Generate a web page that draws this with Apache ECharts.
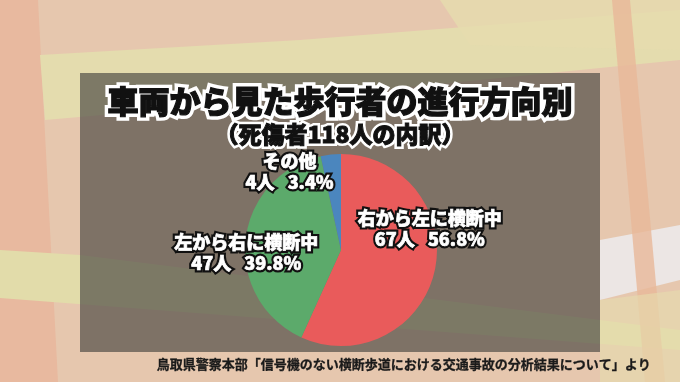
<!DOCTYPE html>
<html>
<head>
<meta charset="utf-8">
<script src="https://cdn.jsdelivr.net/npm/echarts@6/dist/echarts.min.js"></script>
<style>
html,body{margin:0;padding:0;background:#e6c6ae;}
#chart{width:680px;height:382px;}
</style>
</head>
<body>
<div id="chart"></div>
<script>
// ---- data ----
var titleText = '車両から見た歩行者の進行方向別';
var subtitleText = '（死傷者118人の内訳）';
var sourceText = '鳥取県警察本部「信号機のない横断歩道における交通事故の分析結果について」より';
var categories = ['右から左に横断中', '左から右に横断中', 'その他'];
var counts = [67, 47, 4];
var colors = ['#e95b5b', '#5caa6b', '#4b86be'];
var labelShift = [[39, -32], [-44, 8], [-46, -28]];

var chart = echarts.init(document.getElementById('chart'), null, {renderer: 'canvas'});
var font = '"Noto Sans CJK JP", "Noto Sans", sans-serif';

var bg = [
  {type: 'rect', shape: {x: 0, y: 0, width: 680, height: 382}, style: {fill: '#e6c7ae'}},
  {type: 'polygon', shape: {points: [[0,0],[38,0],[58,382],[0,382]]}, style: {fill: '#e8b99f'}},
  {type: 'polygon', shape: {points: [[40,55],[300,40],[680,10],[680,60],[330,95],[45,120]]}, style: {fill: '#e4dcae'}},
  {type: 'polygon', shape: {points: [[440,0],[680,0],[680,50],[470,45]]}, style: {fill: '#e6dcae', opacity: 0.8}},
  {type: 'polygon', shape: {points: [[0,250],[80,255],[680,330],[680,350],[0,298]]}, style: {fill: '#e2dcaa'}},
  {type: 'polygon', shape: {points: [[600,240],[680,225],[680,280],[600,300]]}, style: {fill: '#ece6e4'}},
  {type: 'polygon', shape: {points: [[612,0],[630,0],[665,382],[645,382]]}, style: {fill: '#e8b898', opacity: 0.8}},
  {type: 'polygon', shape: {points: [[600,300],[680,290],[680,382],[600,382]]}, style: {fill: '#e6dcae', opacity: 0.6}},
  {type: 'rect', shape: {x: 80, y: 73, width: 520, height: 279}, style: {fill: 'rgba(72,70,66,0.66)'}}
];

var pieData = categories.map(function (name, i) {
  return {name: name, value: counts[i], itemStyle: {color: colors[i]}};
});
var pieDataTop = categories.map(function (name, i) {
  return {name: name, value: counts[i], itemStyle: {color: 'rgba(0,0,0,0)'}};
});

function titleItem(text, top, size, fill, stroke, sw) {
  return {
    text: text, left: 'center', top: top,
    textStyle: {fontFamily: font, fontSize: size, fontWeight: 900, color: fill,
      textBorderColor: stroke, textBorderWidth: sw}
  };
}

var labelBase = {
  position: 'inside',
  formatter: '{b}\n{c}人\u2002 {d}%',
  fontFamily: font,
  fontSize: 18,
  fontWeight: 900,
  lineHeight: 21
};

function pieSeries(data, labelStyle, z) {
  return {
    type: 'pie',
    z: z,
    center: [341, 250],
    radius: 96,
    startAngle: 90,
    clockwise: true,
    percentPrecision: 1,
    silent: true,
    data: data,
    itemStyle: {borderWidth: 0},
    label: Object.assign({}, labelBase, labelStyle),
    labelLine: {show: false},
    labelLayout: function (p) {
      var s = labelShift[p.dataIndex];
      return {dx: s[0], dy: s[1]};
    },
    emphasis: {disabled: true}
  };
}

chart.setOption({
  animation: false,
  graphic: bg.map(function (g) { g.silent = true; g.z = -10; return g; }),
  title: [
    titleItem(titleText, 81, 31, '#fff', '#fff', 8),
    titleItem(titleText, 81, 31, '#111', '#111', 1.2),
    titleItem(subtitleText, 118, 23, '#fff', '#fff', 6),
    titleItem(subtitleText, 118, 23, '#111', '#111', 1),
    {
      text: sourceText, right: 24, top: 353,
      textStyle: {fontFamily: font, fontSize: 13, fontWeight: 'bold', color: '#1a1a1a',
        textBorderColor: '#1a1a1a', textBorderWidth: 0.3}
    }
  ],
  series: [
    pieSeries(pieData, {color: '#111', textBorderColor: '#111', textBorderWidth: 5}, 2),
    pieSeries(pieDataTop, {color: '#fff', textBorderColor: '#fff', textBorderWidth: 0.7}, 3)
  ]
});
</script>
</body>
</html>
